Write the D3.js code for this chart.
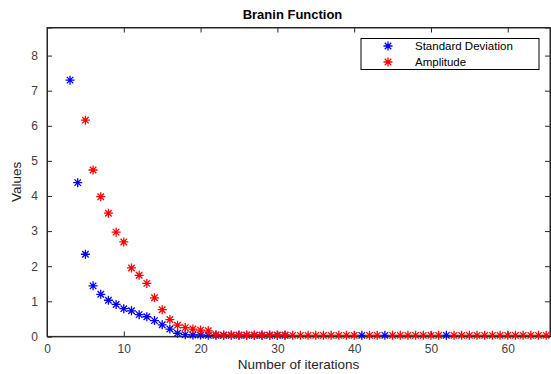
<!DOCTYPE html>
<html lang="en">
<head>
<meta charset="UTF-8">
<title>Branin Function</title>
<script src="https://d3js.org/d3.v7.min.js"></script>
<style>
body{margin:0;background:#fff;}
svg{display:block;font-family:"Liberation Sans",Arial,sans-serif;}
</style>
</head>
<body>
<script>
// iterations and values
var stdIter = [3,4,5,6,7,8,9,10,11,12,13,14,15,16,17,18,19,20,21,22,23,24,25,26,27,28,29,30,31,41,44,52];
var stdVals = [7.30,4.38,2.34,1.44,1.20,1.03,0.91,0.79,0.73,0.62,0.56,0.45,0.33,0.21,0.09,0.05,0.04,0.04,0.03,0.03,0.03,0.03,0.03,0.03,0.03,0.03,0.03,0.03,0.03,0.03,0.03,0.03];
var ampIter = [5,6,7,8,9,10,11,12,13,14,15,16,17,18,19,20,21,22,23,24,25,26,27,28,29,30,31,32,33,34,35,36,37,38,39,40,42,43,45,46,47,48,49,50,51,53,54,55,56,57,58,59,60,61,62,63,64,65];
var ampVals = [6.16,4.74,3.98,3.51,2.97,2.69,1.95,1.74,1.51,1.10,0.76,0.48,0.32,0.25,0.21,0.18,0.16,0.05,0.04,0.04,0.04,0.04,0.04,0.04,0.04,0.04,0.04,0.03,0.03,0.03,0.03,0.03,0.03,0.03,0.03,0.03,0.03,0.03,0.03,0.03,0.03,0.03,0.03,0.03,0.03,0.03,0.03,0.03,0.03,0.03,0.03,0.03,0.03,0.03,0.03,0.03,0.03,0.03];
var xTicks = [0,10,20,30,40,50,60];
var yTicks = [0,1,2,3,4,5,6,7,8];
var seriesNames = ["Standard Deviation","Amplitude"];
var seriesColors = ["#0000ff","#ff0000"];

var W = 551, H = 374;
var m = {left:47, right:1, top:27.5, bottom:37.6};
var svg = d3.select("body").append("svg").attr("width",W).attr("height",H);

var x = d3.scaleLinear().domain([0,65.5]).range([m.left, W-m.right]);
var y = d3.scaleLinear().domain([0,8.8]).range([H-m.bottom, m.top]);

var axisCol = "#262626";

// box
svg.append("rect").attr("x",x(0)).attr("y",y(8.8))
  .attr("width",x(65.5)-x(0)).attr("height",y(0)-y(8.8))
  .attr("fill","#fff").attr("stroke",axisCol).attr("stroke-width",1);

var gx = svg.append("g").attr("transform","translate(0,"+y(0)+")")
  .call(d3.axisBottom(x).tickValues(xTicks).tickSize(-5).tickPadding(8));
var gxt = svg.append("g").attr("transform","translate(0,"+y(8.8)+")")
  .call(d3.axisTop(x).tickValues(xTicks).tickSize(-5).tickFormat(""));
var gy = svg.append("g").attr("transform","translate("+x(0)+",0)")
  .call(d3.axisLeft(y).tickValues(yTicks).tickSize(-5).tickPadding(9));
var gyr = svg.append("g").attr("transform","translate("+x(65.5)+",0)")
  .call(d3.axisRight(y).tickValues(yTicks).tickSize(-5).tickFormat(""));
[gx,gxt,gy,gyr].forEach(function(g){
  g.select(".domain").attr("stroke",axisCol);
  g.selectAll(".tick line").attr("stroke",axisCol);
  g.selectAll("text").attr("fill","#404040").attr("font-size","12px")
    .attr("font-family","Liberation Sans, Arial, sans-serif");
});

// asterisk marker
function star(g, cx, cy, col){
  var r = 4.5, d = r*0.72;
  var p = "M"+(cx-r)+","+cy+"L"+(cx+r)+","+cy+
          "M"+cx+","+(cy-r)+"L"+cx+","+(cy+r)+
          "M"+(cx-d)+","+(cy-d)+"L"+(cx+d)+","+(cy+d)+
          "M"+(cx-d)+","+(cy+d)+"L"+(cx+d)+","+(cy-d);
  g.append("path").attr("d",p).attr("stroke",col).attr("stroke-width",1.3).attr("fill","none");
}

var plot = svg.append("g");
stdIter.forEach(function(it,i){ star(plot, x(it), y(stdVals[i]), seriesColors[0]); });
ampIter.forEach(function(it,i){ star(plot, x(it), y(ampVals[i]), seriesColors[1]); });

// title and labels
svg.append("text").attr("x",(x(0)+x(65.5))/2-6).attr("y",19)
  .attr("text-anchor","middle").attr("font-weight","bold").attr("font-size","13px")
  .attr("fill","#000").text("Branin Function");
svg.append("text").attr("x",(x(0)+x(65.5))/2).attr("y",369)
  .attr("text-anchor","middle").attr("font-size","13.5px").attr("fill","#262626")
  .text("Number of iterations");
svg.append("text").attr("transform","translate(21,"+((y(0)+y(8.8))/2)+") rotate(-90)")
  .attr("text-anchor","middle").attr("font-size","13.5px").attr("fill","#262626")
  .text("Values");

// legend
var lg = svg.append("g");
lg.append("rect").attr("x",361).attr("y",38.5).attr("width",178).attr("height",31)
  .attr("fill","#fff").attr("stroke","#000").attr("stroke-width",1);
seriesNames.forEach(function(n,i){
  star(lg, 388, 46+i*16, seriesColors[i]);
  lg.append("text").attr("x",415).attr("y",50+i*16).attr("font-size","11.5px")
    .attr("fill","#000").text(n);
});
</script>
</body>
</html>
